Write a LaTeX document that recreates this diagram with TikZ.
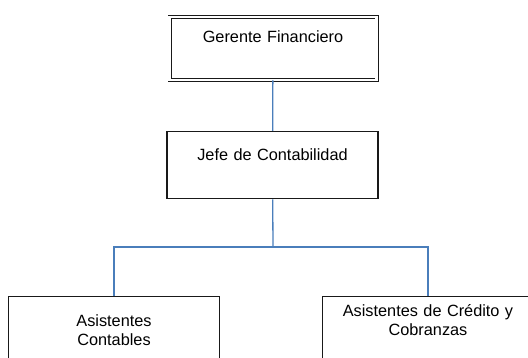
\documentclass[tikz,border=0pt]{standalone}
\usepackage{fontspec}
\setmainfont{Liberation Sans}
\definecolor{linkblue}{RGB}{74,126,187}
\begin{document}
\begin{tikzpicture}[x=1pt, y=-1pt]

\tikzstyle{unit} = [rectangle, draw=black!90, line width=1.3pt, inner sep=0pt, anchor=north,
  minimum width=211, minimum height=67, text width=205, align=center,
  font=\fontsize{16.3}{18.5}\selectfont]
\tikzstyle{link} = [draw=linkblue, line width=1.3pt]

\useasboundingbox (0,0) rectangle (528,358);

\node[unit, double, double distance=2.2pt, line width=0.9pt, minimum width=207, minimum height=63,
  text height=25.5, text depth=37.5] (ger) at (273,16.5) {Gerente Financiero};
\node[unit, text height=28.5, text depth=38.5] (jefe) at (272.5,131) {Jefe de Contabilidad};

\node[unit, text height=30, text depth=37] (cont) at (114,296) {Asistentes\\Contables};
\node[unit, text height=20, text depth=47] (cred) at (428,296) {Asistentes de Crédito y\\Cobranzas};

\coordinate (bus) at (273,247);

\draw[link] (ger) -- (jefe);
\draw[link] (jefe) -- (bus);
\draw[link] (bus) -| (cont);
\draw[link] (bus) -| (cred);

\end{tikzpicture}
\end{document}
